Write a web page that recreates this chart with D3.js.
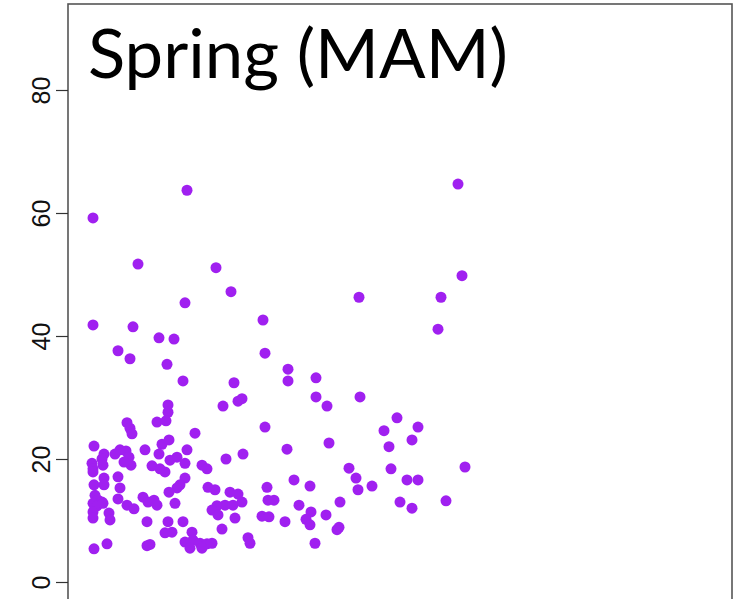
<!DOCTYPE html>
<html><head><meta charset="utf-8">
<script src="https://cdn.jsdelivr.net/npm/d3@7"></script>
<style>html,body{margin:0;padding:0;background:#fff;overflow:hidden}</style>
</head><body>
<script>
const title = "Spring (MAM)";
const yTicks = [0, 20, 40, 60, 80];
const xVals = [25,119,390,70,148,163,117,373,291,394,25,65,195,91,106,50,62,99,197,370,220,248,220,115,166,170,174,155,100,100,248,259,292,329,89,98,59,62,64,197,127,316,350,344,321,261,219,26,94,101,77,119,36,47,52,58,61,91,175,158,102,109,34,24,25,35,63,56,117,134,139,84,92,97,397,281,323,25,36,36,50,26,52,117,112,109,101,140,147,162,170,174,165,157,149,144,150,199,200,206,288,339,350,226,242,290,304,378,332,344,272,231,258,243,238,242,217,194,201,167,271,269,180,182,247,154,27,30,34,25,29,35,25,25,41,42,50,59,66,75,80,86,89,107,79,100,115,97,104,124,117,125,132,139,144,122,134,79,82,39,26];
const yVals = [59.2,63.7,64.7,51.7,51.1,47.2,45.4,46.3,46.3,49.8,41.8,41.5,42.6,39.7,39.5,37.6,36.3,35.4,37.2,41.1,34.6,33.2,32.7,32.7,32.4,29.4,29.8,28.6,28.8,27.6,30.1,28.6,30.1,26.7,26.0,26.2,25.9,25.0,24.1,25.2,24.2,24.6,25.2,23.1,22.0,22.6,21.6,22.1,22.4,23.1,21.5,21.5,20.8,20.8,21.5,21.3,20.3,20.8,20.8,20.0,19.8,20.3,20.0,19.3,18.4,19.0,19.0,19.5,19.3,19.0,18.4,18.9,18.4,17.9,18.7,18.5,18.4,17.9,16.9,15.8,17.1,15.8,15.3,16.9,15.8,15.3,14.6,15.4,15.0,14.6,14.3,13.0,12.5,12.5,12.4,11.7,10.9,15.4,13.3,13.3,16.9,16.6,16.6,16.6,15.6,15.0,15.6,13.2,13.0,12.0,13.0,12.5,10.9,11.4,10.2,9.3,9.8,10.7,10.6,10.4,8.9,8.5,7.2,6.3,6.3,8.6,14.1,13.3,13.0,12.8,12.4,12.8,11.4,10.4,11.2,10.1,13.5,12.5,11.9,13.8,13.0,13.3,12.5,12.8,9.8,9.8,9.8,8.0,8.1,8.1,6.5,6.8,6.3,6.2,6.3,5.5,5.5,5.9,6.1,6.2,5.4];

const W = 740, H = 599;
const svg = d3.select("body").append("svg").attr("width", W).attr("height", H);

const x = d3.scaleLinear().domain([0, 664]).range([68, 732]);
const y = d3.scaleLinear().domain([0, 80]).range([582, 90]);

// plot box
svg.append("rect").attr("x", 68).attr("y", 4).attr("width", 664).attr("height", 640)
  .attr("fill", "none").attr("stroke", "#555").attr("stroke-width", 1.6);

// y axis
const yAxis = d3.axisLeft(y).tickValues(yTicks).tickSize(12).tickPadding(6);
const g = svg.append("g").attr("transform", "translate(68,0)").call(yAxis);
g.select(".domain").remove();
g.selectAll(".tick line").attr("stroke", "#333").attr("stroke-width", 1.2);
g.selectAll(".tick text")
  .attr("font-family", "'Liberation Sans', Arial, sans-serif")
  .attr("font-size", 25).attr("fill", "#111")
  .attr("x", null).attr("dy", null)
  .attr("text-anchor", "middle")
  .attr("transform", "translate(-18,0) rotate(-90)");

// points
const data = xVals.map((v, i) => ({x: v, y: yVals[i]}));
svg.append("g").selectAll("circle").data(data).join("circle")
  .attr("cx", d => x(d.x)).attr("cy", d => y(d.y)).attr("r", 5.5)
  .attr("fill", "#A020F0");

// title
svg.append("text").attr("x", 88).attr("y", 78)
  .attr("font-family", "Lato, 'Open Sans', sans-serif")
  .attr("font-size", 68).attr("fill", "#000")
  .attr("textLength", 420).attr("lengthAdjust", "spacingAndGlyphs")
  .text(title);
</script>
</body></html>
